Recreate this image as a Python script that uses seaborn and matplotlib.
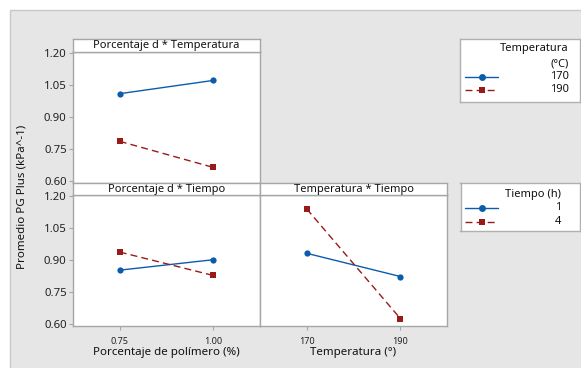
import matplotlib
matplotlib.use("Agg")
import matplotlib.pyplot as plt
from matplotlib.patches import Rectangle
import pandas as pd
import seaborn as sns

# --- data: interaction means -------------------------------------------
pct_levels = [0.75, 1.00]            # Porcentaje de polímero (%)
temp_levels = [170, 190]             # Temperatura (°C)
time_levels = ["1", "4"]             # Tiempo (h)

# Porcentaje d * Temperatura
pt_170 = [1.010, 1.072]
pt_190 = [0.787, 0.665]
# Porcentaje d * Tiempo
pti_1 = [0.852, 0.901]
pti_4 = [0.937, 0.827]
# Temperatura * Tiempo
tti_1 = [0.931, 0.822]
tti_4 = [1.139, 0.624]

y_ticks = [0.60, 0.75, 0.90, 1.05, 1.20]

BLUE = "#0c5cad"
RED = "#9a1a1a"
GRID_GRAY = "#a6a6a6"
BG = "#e6e6e6"

sns.set_style("white")
plt.rcParams["font.family"] = ["Noto Sans", "DejaVu Sans"]

W, H = 581, 368
fig = plt.figure(figsize=(W / 100, H / 100), dpi=100)
fig.patch.set_facecolor("white")


def rect(x0, y0, x1, y1):
    return [x0 / W, 1 - y1 / H, (x1 - x0) / W, (y1 - y0) / H]


# grey canvas behind the panels
fig.patches.append(Rectangle((10 / W, -0.05), 1.0, (358 / H) + 0.05,
                             transform=fig.transFigure, facecolor=BG,
                             edgecolor="#c8c8c8", lw=1.0, zorder=-10))


def long_df(x_vals, groups, key):
    rows = []
    for g, vals in groups.items():
        for xv, yv in zip(x_vals, vals):
            rows.append({"x": xv, "y": yv, key: g})
    return pd.DataFrame(rows)


def draw_panel(ax, df, key, order, xlim, xticks, xticklabels, show_y):
    pal = {order[0]: BLUE, order[1]: RED}
    mk = {order[0]: "o", order[1]: "s"}
    ds = {order[0]: "", order[1]: (5, 3)}
    sns.lineplot(data=df, x="x", y="y", hue=key, style=key,
                 hue_order=order, style_order=order, palette=pal,
                 markers=mk, dashes=ds, markersize=4.5,
                 markeredgewidth=0, lw=1.0, legend=False, ax=ax)
    ax.set_xlim(*xlim)
    ax.set_ylim(0.592, 1.205)
    ax.set_facecolor("white")
    for s in ax.spines.values():
        s.set_color(GRID_GRAY)
        s.set_linewidth(1.0)
        s.set_visible(True)
    ax.set_xlabel("")
    ax.set_ylabel("")
    ax.set_yticks(y_ticks)
    if show_y:
        ax.set_yticklabels([f"{v:.2f}" for v in y_ticks], fontsize=8.2,
                           color="#222222")
        ax.tick_params(axis="y", length=3, width=0.8, color=GRID_GRAY,
                       pad=1.5, left=True)
    else:
        ax.tick_params(axis="y", left=False, labelleft=False)
    if xticks is not None:
        ax.set_xticks(xticks)
        ax.set_xticklabels(xticklabels, fontsize=6.5, color="#222222")
        ax.tick_params(axis="x", length=3, width=0.8, color=GRID_GRAY,
                       pad=5, bottom=True)
    else:
        ax.set_xticks([])
        ax.tick_params(axis="x", bottom=False, labelbottom=False)


def strip(box, title):
    sa = fig.add_axes(rect(*box))
    sa.set_xticks([])
    sa.set_yticks([])
    sa.set_facecolor("white")
    for s in sa.spines.values():
        s.set_color(GRID_GRAY)
        s.set_linewidth(1.0)
    sa.text(0.5, 0.45, title, ha="center", va="center", fontsize=8.0,
            color="#111111", transform=sa.transAxes)


# Porcentaje d * Temperatura
ax1 = fig.add_axes(rect(73, 52, 260, 183))
df1 = long_df(pct_levels, {"170": pt_170, "190": pt_190}, "Temperatura")
draw_panel(ax1, df1, "Temperatura", ["170", "190"], (0.625, 1.125),
           None, None, True)
strip((73, 38.5, 260, 52), "Porcentaje d * Temperatura")

# Porcentaje d * Tiempo
ax2 = fig.add_axes(rect(73, 195, 260, 325.5))
df2 = long_df(pct_levels, {"1": pti_1, "4": pti_4}, "Tiempo")
draw_panel(ax2, df2, "Tiempo", time_levels, (0.625, 1.125),
           pct_levels, [f"{v:.2f}" for v in pct_levels], True)
strip((73, 183, 260, 195), "Porcentaje d * Tiempo")

# Temperatura * Tiempo
ax3 = fig.add_axes(rect(260, 195, 447.3, 325.5))
df3 = long_df(temp_levels, {"1": tti_1, "4": tti_4}, "Tiempo")
draw_panel(ax3, df3, "Tiempo", time_levels, (160, 200),
           temp_levels, [str(v) for v in temp_levels], False)
strip((260, 183, 447.3, 195), "Temperatura * Tiempo")

# axis titles
fig.text(22 / W, 1 - 197 / H, "Promedio PG Plus (kPa^-1)", rotation=90,
         ha="center", va="center", fontsize=8.3, color="#111111")
fig.text(166.5 / W, 1 - 352 / H, "Porcentaje de polímero (%)",
         ha="center", va="center", fontsize=8.3, color="#111111")
fig.text(353.5 / W, 1 - 352 / H, "Temperatura (°)",
         ha="center", va="center", fontsize=8.3, color="#111111")


# legend boxes
def legend_box(box, title_lines, labels, label_right_px):
    x0, y0, x1, y1 = box
    la = fig.add_axes(rect(x0, y0, x1, y1))
    la.set_xlim(x0, x1)
    la.set_ylim(y1, y0)
    la.set_xticks([])
    la.set_yticks([])
    la.set_facecolor("white")
    for s in la.spines.values():
        s.set_color("#b0b0b0")
        s.set_linewidth(1.0)
    for text, ty in title_lines:
        la.text(label_right_px, ty, text, ha="right", va="center",
                fontsize=8.0, color="#111111")
    styles = [(BLUE, "o", "-"), (RED, "s", (0, (5, 3)))]
    for (lab, ly), (c, m, ls) in zip(labels, styles):
        la.plot([465, 498], [ly, ly], color=c, lw=1.0, linestyle=ls)
        la.plot([482], [ly], color=c, marker=m, markersize=5,
                markeredgewidth=0, linestyle="none")
        la.text(label_right_px, ly, lab, ha="right", va="center",
                fontsize=8.0, color="#111111")


legend_box((459.5, 38.5, 580, 101.5),
           [("Temperatura", 49), ("(°C)", 64)],
           [("170", 76.5), ("190", 89.5)], 568.5)
legend_box((460.5, 182.5, 580, 230.5),
           [("Tiempo (h)", 194)],
           [("1", 207.5), ("4", 222)], 561)

fig.savefig("out.png", dpi=100, facecolor=fig.get_facecolor())
